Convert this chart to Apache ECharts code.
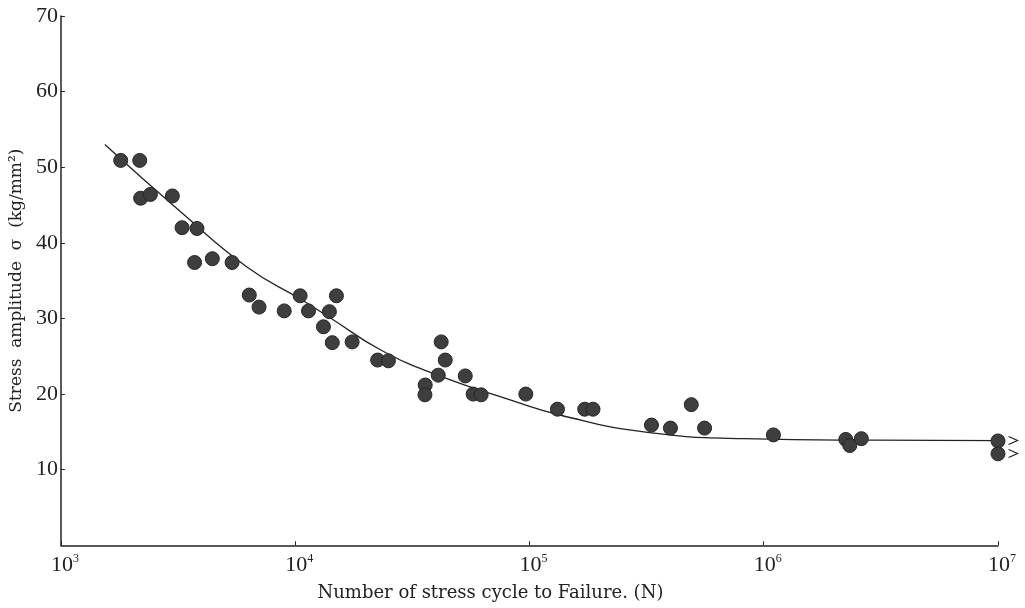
<!DOCTYPE html>
<html>
<head>
<meta charset="utf-8">
<script src="https://cdn.jsdelivr.net/npm/echarts@6/dist/echarts.min.js"></script>
<style>
html, body { margin: 0; padding: 0; background: #fff; }
#chart { width: 1025px; height: 608px; }
</style>
</head>
<body>
<div id="chart"></div>
<script>
// test results: cycles to failure and stress amplitude (kg/mm2)
var cycles = [1800, 2170, 2190, 2410, 2990, 3290, 3810, 3720, 4430, 5380,
    6370, 7010, 8980, 10500, 11400, 13200, 14000, 14400, 15000, 17500,
    22500, 25000, 35900, 35800, 40800, 42000, 43700, 53200, 57500, 62200,
    96500, 131700, 172200, 186800, 331700, 399800, 490700, 559000, 1100000,
    2240000, 2330000, 2610000, 1e7, 1e7];
var stress = [50.9, 50.9, 45.9, 46.4, 46.2, 42.0, 41.9, 37.4, 37.9, 37.4,
    33.1, 31.5, 31.0, 33.0, 31.0, 28.9, 30.9, 26.8, 33.0, 26.9,
    24.5, 24.4, 21.2, 19.9, 22.5, 26.9, 24.5, 22.4, 20.0, 19.9,
    20.0, 18.0, 18.0, 18.0, 15.9, 15.5, 18.6, 15.5, 14.6,
    14.0, 13.2, 14.1, 13.8, 12.1];

// S-N curve
var curveN = [1540, 3270, 6290, 10600, 14250, 23300, 40600, 83300,
    136000, 308000, 822000, 3000000, 1.16e7];
var curveS = [53.0, 44.0, 36.7, 32.5, 30.0, 25.8, 22.5, 19.2,
    17.2, 15.0, 14.1, 13.9, 13.85];

// run-out (unbroken) specimen arrow
var runoutN = [1e7, 1.16e7];
var runoutS = [12.15, 12.15];

var yTicks = [0, 10, 20, 30, 40, 50, 60, 70];

var myChart = echarts.init(document.getElementById('chart'));

var points = [];
for (var i = 0; i < cycles.length; i++) points.push([cycles[i], stress[i]]);
var curve = [];
for (var i = 0; i < curveN.length; i++) curve.push([curveN[i], curveS[i]]);
var runout = [];
for (var i = 0; i < runoutN.length; i++) runout.push([runoutN[i], runoutS[i]]);

var arrowHead = 'path://M0,0 L10,5 L0,10';
function withArrow(data) {
    return data.map(function (d, k) {
        if (k == data.length - 1) {
            return {value: d, symbol: arrowHead, symbolSize: [9, 8], symbolRotate: 0,
                itemStyle: {color: 'transparent', borderColor: '#222', borderWidth: 1.2}};
        }
        return {value: d, symbol: 'none'};
    });
}

var serif = '"DejaVu Serif", "Liberation Serif", serif';

option = {
    backgroundColor: '#fff',
    animation: false,
    grid: {left: 59.5, right: 27, top: 16, bottom: 62.7},
    xAxis: {
        type: 'log',
        logBase: 10,
        min: 1000,
        max: 1e7,
        name: 'Number of stress cycle to Failure. (N)',
        nameLocation: 'middle',
        nameGap: 39,
        nameTextStyle: {fontFamily: serif, fontSize: 18, color: '#222', padding: [0, 78, 0, 0]},
        axisLine: {lineStyle: {color: '#222', width: 1.5}},
        axisTick: {inside: true, length: 4, lineStyle: {color: '#222'}},
        splitLine: {show: false},
        minorTick: {show: false},
        axisLabel: {
            margin: 8,
            padding: [0, 0, 0, 8],
            color: '#222',
            fontFamily: '"Liberation Serif", serif',
            fontSize: 22,
            formatter: function (v) {
                return '10{s|' + Math.round(Math.log(v) / Math.LN10) + '}';
            },
            rich: {
                s: {fontSize: 12, verticalAlign: 'top', padding: [0, 0, 12, 0],
                    fontFamily: '"Liberation Serif", serif', color: '#222'}
            }
        }
    },
    yAxis: {
        type: 'value',
        min: yTicks[0],
        max: yTicks[yTicks.length - 1],
        interval: 10,
        name: 'Stress  amplitude  σ  (kg/mm²)',
        nameLocation: 'middle',
        nameGap: 33,
        nameTextStyle: {fontFamily: serif, fontSize: 17, color: '#222'},
        axisLine: {show: true, lineStyle: {color: '#222', width: 1.5}},
        axisTick: {show: true, inside: true, length: 4, lineStyle: {color: '#222'}},
        splitLine: {show: false},
        axisLabel: {
            margin: 3,
            showMinLabel: false,
            color: '#222',
            fontFamily: '"Liberation Serif", serif',
            fontSize: 22
        }
    },
    series: [
        {
            name: 'curve',
            type: 'line',
            data: withArrow(curve),
            smooth: 0.5,
            clip: false,
            lineStyle: {color: '#222', width: 1.3},
            z: 2
        },
        {
            name: 'runout',
            type: 'line',
            data: withArrow(runout),
            clip: false,
            lineStyle: {color: '#222', width: 1.3},
            z: 2
        },
        {
            name: 'tests',
            type: 'scatter',
            data: points,
            symbol: 'circle',
            symbolSize: 14,
            clip: false,
            itemStyle: {color: '#3e3e3e', borderColor: '#262626', borderWidth: 1, opacity: 1},
            z: 3
        }
    ]
};
myChart.setOption(option);
</script>
</body>
</html>
